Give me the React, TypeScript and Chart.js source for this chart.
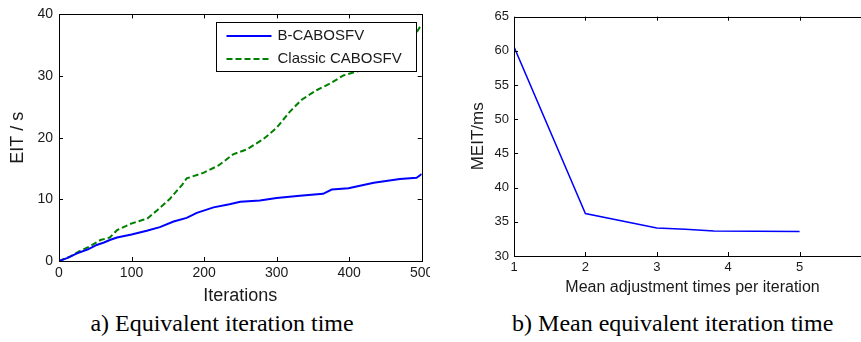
import React, { useEffect, useRef } from "react";
import { Chart, registerables } from "chart.js";

Chart.register(...registerables);

// ---- Data: chart a) Equivalent iteration time ----
const bIterations = [0, 12, 24, 40, 52, 62, 70, 80, 100, 121, 139, 158, 176, 190, 213, 235, 250, 277, 300, 332, 364, 376, 399, 434, 470, 493, 500];
const bCabosfv = [0, 0.5, 1.2, 1.9, 2.6, 3.0, 3.4, 3.8, 4.3, 4.9, 5.5, 6.4, 7.0, 7.8, 8.7, 9.2, 9.6, 9.8, 10.2, 10.6, 10.9, 11.6, 11.8, 12.7, 13.3, 13.5, 14.1];
const classicIterations = [0, 15, 27, 43, 57, 70, 80, 98, 116, 121, 135, 153, 170, 176, 199, 220, 240, 259, 282, 300, 318, 335, 355, 374, 392, 415, 424, 450, 475, 493, 500];
const classicCabosfv = [0, 0.7, 1.5, 2.4, 3.4, 3.8, 5.0, 6.0, 6.7, 6.8, 8.2, 10.1, 12.4, 13.4, 14.3, 15.5, 17.3, 18.1, 19.8, 21.6, 24.2, 26.2, 27.7, 28.8, 30.1, 30.9, 31.7, 33.6, 35.6, 37.1, 38.4];
const seriesNamesA = ["B-CABOSFV", "Classic CABOSFV"];
const xTicksA = [0, 100, 200, 300, 400, 500];
const yTicksA = [0, 10, 20, 30, 40];

// ---- Data: chart b) Mean equivalent iteration time ----
const meanAdjustTimes = [1, 2, 3, 3.4, 3.8, 5];
const meitValues = [60.6, 36.2, 34.1, 33.9, 33.65, 33.6];
const xTicksB = [1, 2, 3, 4, 5, 6];
const yTicksB = [30, 35, 40, 45, 50, 55, 60, 65];

const SANS = "'Liberation Sans', Arial, sans-serif";
const SERIF = "'Liberation Serif', 'Times New Roman', serif";
const INK = "#1a1a1a";

const matlabFrame = {
  id: "matlabFrame",
  afterDatasetsDraw(chart: any, _args: any, opts: any) {
    const { ctx, chartArea: a, scales } = chart;
    const len = opts.tickLen ?? 4;
    ctx.save();
    ctx.strokeStyle = opts.color || "#000";
    ctx.lineWidth = 1;
    ctx.strokeRect(Math.round(a.left) + 0.5, Math.round(a.top) + 0.5, Math.round(a.right - a.left), Math.round(a.bottom - a.top));
    ctx.beginPath();
    scales.x.ticks.forEach((t: any) => {
      const px = Math.round(scales.x.getPixelForValue(t.value)) + 0.5;
      ctx.moveTo(px, a.bottom);
      ctx.lineTo(px, a.bottom - len);
      ctx.moveTo(px, a.top);
      ctx.lineTo(px, a.top + len);
    });
    scales.y.ticks.forEach((t: any) => {
      const py = Math.round(scales.y.getPixelForValue(t.value)) + 0.5;
      ctx.moveTo(a.left, py);
      ctx.lineTo(a.left + len, py);
      ctx.moveTo(a.right, py);
      ctx.lineTo(a.right - len, py);
    });
    ctx.stroke();
    ctx.restore();
  },
};

const boxedLegend = {
  id: "boxedLegend",
  afterDraw(chart: any, _args: any, opts: any) {
    if (!opts || !opts.enabled) return;
    const { ctx, chartArea: a } = chart;
    const w = opts.width, h = opts.height;
    const x0 = Math.round(a.right - opts.right - w) + 0.5;
    const y0 = Math.round(a.top + opts.top) + 0.5;
    ctx.save();
    ctx.fillStyle = "#fff";
    ctx.fillRect(x0, y0, w, h);
    ctx.strokeStyle = "#000";
    ctx.lineWidth = 1;
    ctx.strokeRect(x0, y0, w, h);
    ctx.font = opts.font;
    ctx.textBaseline = "middle";
    ctx.textAlign = "left";
    chart.data.datasets.forEach((ds: any, i: number) => {
      const cy = y0 + opts.rowTop + i * opts.rowGap;
      ctx.beginPath();
      ctx.strokeStyle = ds.borderColor;
      ctx.lineWidth = ds.borderWidth;
      ctx.setLineDash(ds.borderDash || []);
      ctx.moveTo(x0 + opts.lineStart, cy);
      ctx.lineTo(x0 + opts.lineStart + opts.lineLen, cy);
      ctx.stroke();
      ctx.setLineDash([]);
      ctx.fillStyle = INK;
      ctx.fillText(ds.label, x0 + opts.textStart, cy);
    });
    ctx.restore();
  },
};

function toPoints(xs: number[], ys: number[]) {
  return xs.map((x, i) => ({ x, y: ys[i] }));
}

function ChartA() {
  const ref = useRef<HTMLCanvasElement>(null);
  useEffect(() => {
    const chart = new Chart(ref.current!, {
      type: "line",
      data: {
        datasets: [
          {
            label: seriesNamesA[0],
            data: toPoints(bIterations, bCabosfv),
            borderColor: "#0000ff",
            borderWidth: 2,
            pointRadius: 0,
            tension: 0,
          },
          {
            label: seriesNamesA[1],
            data: toPoints(classicIterations, classicCabosfv),
            borderColor: "#008000",
            borderWidth: 2,
            borderDash: [6, 3],
            pointRadius: 0,
            tension: 0,
          },
        ],
      },
      options: {
        animation: false,
        responsive: false,
        layout: { padding: { left: 0, top: 11.7, right: 18.3, bottom: 0 } },
        plugins: {
          legend: { display: false },
          tooltip: { enabled: false },
          matlabFrame: { color: "#000", tickLen: 4 },
          boxedLegend: {
            enabled: true,
            width: 200,
            height: 49,
            right: 6,
            top: 8,
            rowTop: 13.5,
            rowGap: 23,
            lineStart: 10,
            lineLen: 45,
            textStart: 61,
            font: `15px ${SANS}`,
          },
        } as any,
        scales: {
          x: {
            type: "linear",
            min: 0,
            max: 500,
            afterBuildTicks: (s: any) => { s.ticks = xTicksA.map((v) => ({ value: v })); },
            afterFit: (s: any) => { s.height = 49; },
            grid: { display: false, drawTicks: false },
            border: { display: false },
            ticks: { color: INK, font: { family: SANS, size: 14 }, padding: 4, maxRotation: 0 },
            title: { display: true, text: "Iterations", color: INK, font: { family: SANS, size: 18 }, padding: { top: 0, bottom: 3.2 } },
          },
          y: {
            type: "linear",
            min: 0,
            max: 40,
            afterBuildTicks: (s: any) => { s.ticks = yTicksA.map((v) => ({ value: v })); },
            afterFit: (s: any) => { s.width = 59; },
            grid: { display: false, drawTicks: false },
            border: { display: false },
            ticks: { color: INK, font: { family: SANS, size: 14 }, padding: 6 },
            title: { display: true, text: "EIT / s", color: INK, font: { family: SANS, size: 18 }, padding: { top: 7.5, bottom: 0 } },
          },
        },
      },
      plugins: [matlabFrame, boxedLegend],
    });
    return () => chart.destroy();
  }, []);
  return <canvas ref={ref} width={440} height={310} style={{ display: "block" }} />;
}

function ChartB() {
  const ref = useRef<HTMLCanvasElement>(null);
  useEffect(() => {
    const chart = new Chart(ref.current!, {
      type: "line",
      data: {
        datasets: [
          {
            label: "MEIT",
            data: toPoints(meanAdjustTimes, meitValues),
            borderColor: "#0000ff",
            borderWidth: 1.5,
            pointRadius: 0,
            tension: 0,
          },
        ],
      },
      options: {
        animation: false,
        responsive: false,
        layout: { padding: { left: 0, top: 16.7, right: 29, bottom: 0 } },
        plugins: {
          legend: { display: false },
          tooltip: { enabled: false },
          matlabFrame: { color: "#000", tickLen: 4 },
          boxedLegend: { enabled: false },
        } as any,
        scales: {
          x: {
            type: "linear",
            min: 1,
            max: 6,
            afterBuildTicks: (s: any) => { s.ticks = xTicksB.map((v) => ({ value: v })); },
            afterFit: (s: any) => { s.height = 44; },
            grid: { display: false, drawTicks: false },
            border: { display: false },
            ticks: { color: INK, font: { family: SANS, size: 13 }, padding: 4, maxRotation: 0 },
            title: { display: true, text: "Mean adjustment times per iteration", color: INK, font: { family: SANS, size: 16 }, padding: { top: 0, bottom: 2.4 } },
          },
          y: {
            type: "linear",
            min: 30,
            max: 65,
            afterBuildTicks: (s: any) => { s.ticks = yTicksB.map((v) => ({ value: v })); },
            afterFit: (s: any) => { s.width = 84; },
            grid: { display: false, drawTicks: false },
            border: { display: false },
            ticks: { color: INK, font: { family: SANS, size: 13 }, padding: 5 },
            title: { display: true, text: "MEIT/ms", color: INK, font: { family: SANS, size: 17 }, padding: { top: 38.5, bottom: 0 } },
          },
        },
      },
      plugins: [matlabFrame, boxedLegend],
    });
    return () => chart.destroy();
  }, []);
  return <canvas ref={ref} width={470} height={300} style={{ display: "block" }} />;
}

const captionStyle: React.CSSProperties = {
  position: "absolute",
  top: 311,
  fontFamily: SERIF,
  fontSize: 24,
  lineHeight: "24px",
  color: "#000",
  textAlign: "center",
  whiteSpace: "nowrap",
};

export default function App() {
  return (
    <div style={{ position: "absolute", left: 0, top: 0, width: 861, height: 342, overflow: "hidden", background: "#fff" }}>
      <div style={{ position: "absolute", left: 0, top: 0, width: 430, height: 310, overflow: "hidden" }}>
        <ChartA />
      </div>
      <div style={{ position: "absolute", left: 430, top: 0, width: 431, height: 300, overflow: "hidden" }}>
        <ChartB />
      </div>
      <div style={{ ...captionStyle, left: 0, width: 444 }}>a) Equivalent iteration time</div>
      <div style={{ ...captionStyle, left: 472.7, width: 400 }}>b) Mean equivalent iteration time</div>
    </div>
  );
}
